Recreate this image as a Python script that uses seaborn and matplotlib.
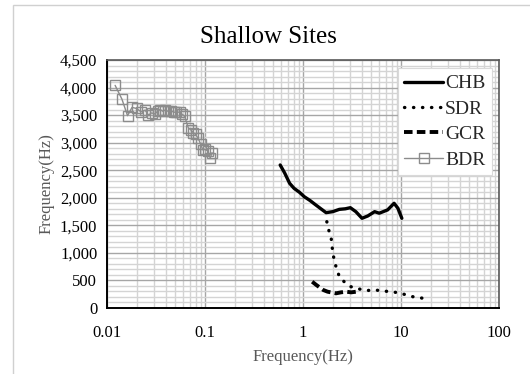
import numpy as np
import pandas as pd
import matplotlib
matplotlib.use("Agg")
import matplotlib.pyplot as plt
from matplotlib.ticker import FuncFormatter, LogLocator, MultipleLocator, NullFormatter
from matplotlib.patches import Rectangle
import seaborn as sns

# ---- data ----
chb_f = [0.585, 0.65, 0.73, 0.81, 0.92, 1.03, 1.18, 1.35, 1.55, 1.72, 2.01, 2.35, 2.7, 3.04, 3.46, 4.0, 4.58, 5.38, 6.0, 7.3, 8.5, 9.3, 10.2]
chb_v = [2595, 2450, 2263, 2172, 2100, 2020, 1950, 1870, 1790, 1730, 1748, 1790, 1800, 1820, 1748, 1628, 1670, 1748, 1720, 1780, 1900, 1810, 1628]

sdr_f = [1.75, 1.83, 1.94, 1.98, 2.05, 2.17, 2.35, 2.63, 3.07, 4.35, 5.4, 6.4, 7.6, 9.3, 10.8, 13.2, 15.4, 18.8]
sdr_v = [1566, 1416, 1265, 1113, 931, 750, 568, 477, 387, 314, 330, 308, 300, 278, 248, 205, 187, 163]

gcr_f = [1.24, 1.37, 1.61, 1.78, 2.17, 2.44, 2.76, 3.1, 3.5, 3.6]
gcr_v = [477, 417, 327, 296, 266, 284, 296, 284, 296, 330]

bdr_f = [0.0121, 0.0142, 0.0162, 0.0180, 0.0201, 0.0222, 0.0245, 0.0265, 0.0285, 0.031, 0.033, 0.035,
         0.037, 0.039, 0.042, 0.045, 0.048, 0.051, 0.055, 0.058, 0.062, 0.0676, 0.0720, 0.0763,
         0.080, 0.085, 0.090, 0.095, 0.100, 0.107, 0.113, 0.118]
bdr_v = [4040, 3790, 3490, 3640, 3620, 3560, 3590, 3500, 3540, 3520, 3580, 3600,
         3570, 3590, 3570, 3580, 3550, 3560, 3550, 3520, 3480, 3267, 3230, 3176,
         3150, 3080, 2980, 2870, 2880, 2850, 2720, 2820]

series_names = ["CHB", "SDR", "GCR", "BDR"]

# ---- figure ----
sns.set_theme(style="white")
plt.rcParams["font.family"] = ["Liberation Serif", "DejaVu Serif"]

fig = plt.figure(figsize=(5.30, 3.74), dpi=100)
# light chart-area border (left and top edges visible)
fig.patches.append(Rectangle((13 / 530, -0.2), 1.2, (374 - 5) / 374 + 0.2,
                             transform=fig.transFigure, fill=False,
                             edgecolor="#d0d0d0", lw=1.0))

ax = fig.add_axes([107 / 530, (374 - 308) / 374, (499 - 107) / 530, (308 - 60) / 374])

df_chb = pd.DataFrame({"f": chb_f, "v": chb_v})
df_sdr = pd.DataFrame({"f": sdr_f, "v": sdr_v})
df_gcr = pd.DataFrame({"f": gcr_f, "v": gcr_v})
df_bdr = pd.DataFrame({"f": bdr_f, "v": bdr_v})

sns.lineplot(data=df_chb, x="f", y="v", ax=ax, sort=False, estimator=None,
             color="black", lw=2.4, label=series_names[0], zorder=5)
sns.lineplot(data=df_sdr, x="f", y="v", ax=ax, sort=False, estimator=None,
             color="black", lw=2.4, linestyle=(0, (0.1, 2.6)),
             dash_capstyle="round", label=series_names[1], zorder=5)
sns.lineplot(data=df_gcr, x="f", y="v", ax=ax, sort=False, estimator=None,
             color="black", lw=2.8, linestyle=(0, (2.2, 1.1)),
             label=series_names[2], zorder=5)
sns.lineplot(data=df_bdr, x="f", y="v", ax=ax, sort=False, estimator=None,
             color="#8c8c8c", lw=1.0, marker="s", markersize=7.5,
             markerfacecolor="none", markeredgecolor="#8c8c8c",
             markeredgewidth=1.0, label=series_names[3], zorder=4)

ax.set_xscale("log")
ax.set_xlim(0.01, 100)
ax.set_ylim(0, 4500)

ax.xaxis.set_major_locator(LogLocator(base=10, numticks=10))
ax.xaxis.set_minor_locator(LogLocator(base=10, subs=np.arange(2, 10), numticks=20))
ax.xaxis.set_minor_formatter(NullFormatter())
ax.xaxis.set_major_formatter(FuncFormatter(lambda v, p: f"{v:g}"))
ax.yaxis.set_major_locator(MultipleLocator(500))
ax.yaxis.set_minor_locator(MultipleLocator(100))
ax.yaxis.set_major_formatter(FuncFormatter(lambda v, p: f"{int(v):,}"))

ax.grid(which="major", color="#a6a6a6", lw=1.0, zorder=0)
ax.grid(which="minor", color="#d4d4d4", lw=1.0, zorder=0)
ax.set_axisbelow(True)

for s in ["left", "bottom"]:
    ax.spines[s].set_color("black")
    ax.spines[s].set_linewidth(1.4)
for s in ["top", "right"]:
    ax.spines[s].set_color("#595959")
    ax.spines[s].set_linewidth(1.2)

ax.tick_params(which="major", direction="inout", length=8, width=1.2,
               color="black", labelsize=12, labelcolor="black", pad=3)
ax.tick_params(which="minor", direction="in", length=4, width=1.0, color="black")
ax.tick_params(axis="x", which="both", top=False)
ax.tick_params(axis="y", which="both", right=False)
ax.tick_params(axis="x", which="major", pad=8)

ax.set_xlabel("Frequency(Hz)", fontsize=12, color="#595959", labelpad=6)
ax.set_ylabel("Frequency(Hz)", fontsize=12, color="#595959", labelpad=4)

fig.text(0.507, 0.902, "Shallow Sites", ha="center", va="center", fontsize=18, color="black")

leg = ax.legend(loc="upper right", bbox_to_anchor=(0.983, 0.968), fontsize=14,
                frameon=True, fancybox=False, framealpha=1, edgecolor="#d9d9d9",
                handlelength=2.0, handletextpad=0.1, borderpad=0.35, labelspacing=0.4,
                borderaxespad=0)
leg.get_frame().set_linewidth(0.8)

fig.savefig("out.png", dpi=100)
